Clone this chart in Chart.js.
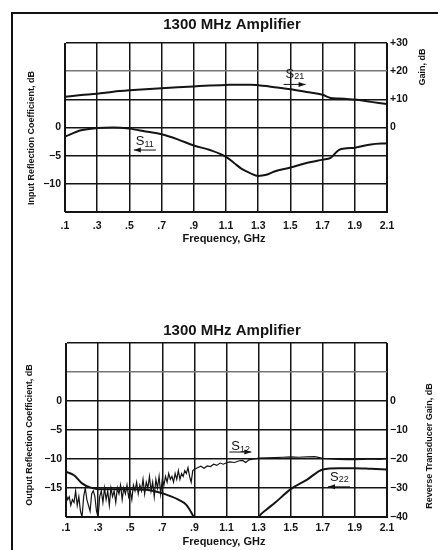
<!DOCTYPE html>
<html>
<head>
<meta charset="utf-8">
<script src="https://cdn.jsdelivr.net/npm/chart.js@4.4.0/dist/chart.umd.min.js"></script>
<style>
  body { margin:0; background:#fff; width:438px; height:550px; overflow:hidden; position:relative; }
  #frame { position:absolute; left:11px; top:12px; right:0; bottom:0; border-left:2px solid #111; border-top:2px solid #111; }
  canvas { position:absolute; left:0; }
  #top { top:0; }
  #bottom { top:280px; }
</style>
</head>
<body>
<div id="frame"></div>
<canvas id="top" width="438" height="280"></canvas>
<canvas id="bottom" width="438" height="270"></canvas>
<script>
// dados (GHz / dB)
const freqTop = [0.1, 0.2, 0.3, 0.4, 0.5, 0.6, 0.7, 0.8, 0.9, 1.0, 1.1, 1.15, 1.2, 1.25, 1.3, 1.35, 1.4, 1.5, 1.6, 1.7, 1.75, 1.8, 1.85, 1.9, 2.0, 2.1];
const s21Gain = [10.9, 11.5, 12.0, 12.7, 13.2, 13.6, 13.9, 14.3, 14.6, 14.9, 15.1, 15.2, 15.2, 15.2, 15.0, 14.7, 14.3, 13.6, 12.6, 11.6, 10.5, 10.3, 10.1, 9.9, 9.1, 8.3];
const s11Input = [-1.6, -0.5, -0.1, 0, -0.2, -0.7, -1.2, -2.1, -3.2, -4.0, -5.2, -6.3, -7.4, -8.1, -8.6, -8.4, -7.8, -7.1, -6.3, -5.7, -5.4, -4.0, -3.7, -3.6, -3.0, -2.8];

const freqS22 = [0.1, 0.15, 0.2, 0.25, 0.3, 0.4, 0.5, 0.6, 0.7, 0.75, 0.8, 0.85, 0.9, 0.95, 1.25, 1.3, 1.35, 1.4, 1.5, 1.6, 1.7, 1.8, 1.9, 2.0, 2.1];
const s22Output = [-12.2, -12.8, -14.2, -14.9, -15.2, -15.2, -15.2, -15.3, -15.9, -16.4, -17.0, -17.9, -20.2, -23, -23, -20.0, -18.7, -17.6, -15.2, -13.6, -11.8, -11.6, -11.6, -11.7, -11.8];

const freqS12 = [0.10, 0.11, 0.12, 0.13, 0.14, 0.15, 0.16, 0.17, 0.18, 0.19, 0.20, 0.21, 0.22, 0.23, 0.24, 0.25, 0.26, 0.27, 0.28, 0.29,
  0.30, 0.31, 0.32, 0.33, 0.34, 0.35, 0.36, 0.37, 0.38, 0.39, 0.40, 0.41, 0.42, 0.43, 0.44, 0.45, 0.46, 0.47, 0.48, 0.49,
  0.50, 0.51, 0.52, 0.53, 0.54, 0.55, 0.56, 0.57, 0.58, 0.59, 0.60, 0.61, 0.62, 0.63, 0.64, 0.65, 0.66, 0.67, 0.68, 0.69,
  0.70, 0.71, 0.72, 0.73, 0.74, 0.75, 0.76, 0.77, 0.78, 0.79, 0.80, 0.81, 0.82, 0.83, 0.84, 0.85, 0.86, 0.87, 0.88, 0.89,
  0.90, 0.92, 0.94, 0.96, 0.98, 1.00, 1.02, 1.04, 1.06, 1.08, 1.10, 1.12, 1.15, 1.18, 1.20, 1.22, 1.24, 1.27, 1.30,
  1.35, 1.40, 1.45, 1.50, 1.55, 1.60, 1.65, 1.70, 1.75, 1.80, 1.85, 1.90, 1.95, 2.00, 2.05, 2.10];
const s12Reverse = [-32, -34, -33, -36, -34, -35, -31, -36, -33, -38, -40, -33, -30, -34, -36, -38, -32, -31, -33, -38,
  -40, -33, -31, -35, -30, -34, -31, -36, -30, -33, -31, -35, -30, -32, -29, -34, -30, -32, -29, -33,
  -31, -34, -29, -31, -28, -32, -29, -31, -27, -32, -28, -30, -26, -31, -28, -33, -27, -30, -26, -32,
  -27, -29, -26, -28, -25, -27, -26, -28, -25, -27, -24, -27, -25, -26, -24, -25, -23, -26, -28, -24,
  -23.5, -23, -22.5, -23.2, -22.4, -22.6, -21.8, -22.2, -21.4, -21.8, -21.3, -21.0, -21.2, -20.6, -20.5, -21.2, -20.3, -20.0, -19.7,
  -19.6, -19.5, -19.4, -19.3, -19.4, -19.3, -19.2, -19.8, -20.0, -20.1, -20.2, -20.2, -20.1, -20.0, -20.1, -19.9];

// rótulos visíveis nos eixos
const topLeftLabels = [0, -5, -10];
const topRightLabels = [30, 20, 10, 0];
const bottomLeftLabels = [0, -5, -10, -15];
const bottomRightLabels = [0, -10, -20, -30, -40];

const FONT = '"Liberation Sans", Arial, sans-serif';
const INK = '#141414';

function pts(xs, ys) {
    return xs.map((x, i) => ({ x: x, y: ys[i] }));
}

function fmtFreq(v) {
    const s = (Math.round(v * 10) / 10).toFixed(1);
    return s.startsWith('0') ? s.slice(1) : s;
}

function fmtDb(v, plus) {
    if (v < 0) return '\u2212' + Math.abs(v);
    if (v > 0 && plus) return '+' + v;
    return String(v);
}

// desenha títulos, nomes dos eixos e as setas S21/S11 etc.
const textPlugin = {
    id: 'texts',
    afterDraw(chart, args, o) {
        const ctx = chart.ctx;
        ctx.save();
        ctx.fillStyle = INK;
        ctx.strokeStyle = INK;
        ctx.textAlign = 'center';
        ctx.textBaseline = 'middle';

        ctx.font = 'bold 15px ' + FONT;
        ctx.fillText(o.title, 232, o.titleY);

        ctx.font = 'bold 11px ' + FONT;
        ctx.fillText('Frequency, GHz', 224, o.xTitleY);

        ctx.font = 'bold 9px ' + FONT;
        [o.leftTitle, o.rightTitle].forEach(t => {
            ctx.save();
            ctx.translate(t.x, t.y);
            ctx.rotate(-Math.PI / 2);
            ctx.fillText(t.text, 0, 0);
            ctx.restore();
        });

        o.marks.forEach(m => {
            const sx = chart.scales.x.getPixelForValue(m.x);
            const sc = chart.scales[m.axis];
            const ty = sc.getPixelForValue(m.y);
            const ay = sc.getPixelForValue(m.arrowY);
            ctx.textAlign = 'left';
            ctx.font = '13px ' + FONT;
            ctx.fillText('S', sx, ty);
            const w = ctx.measureText('S').width;
            ctx.font = '9px ' + FONT;
            ctx.fillText(m.sub, sx + w, ty + 3);
            // seta
            const x0 = sx - 2, x1 = sx + 20;
            ctx.lineWidth = 1;
            ctx.beginPath();
            ctx.moveTo(x0, ay);
            ctx.lineTo(x1, ay);
            ctx.stroke();
            const tip = m.dir > 0 ? x1 : x0;
            ctx.beginPath();
            ctx.moveTo(tip, ay);
            ctx.lineTo(tip - m.dir * 7, ay - 2.5);
            ctx.lineTo(tip - m.dir * 7, ay + 2.5);
            ctx.closePath();
            ctx.fill();
        });
        ctx.restore();
    }
};

function makeChart(id, cfg) {
    const gridColor = ctx => (cfg.lightTicks.includes(ctx.tick && ctx.tick.value) ? '#777' : INK);
    return new Chart(document.getElementById(id), {
        type: 'line',
        data: { datasets: cfg.datasets },
        options: {
            responsive: false,
            animation: false,
            layout: { padding: { top: cfg.padTop, left: 0, right: 0, bottom: 0 } },
            plugins: { legend: { display: false }, tooltip: { enabled: false }, texts: cfg.texts },
            elements: { point: { radius: 0 } },
            scales: {
                x: {
                    type: 'linear', min: 0.1, max: 2.1,
                    ticks: { stepSize: 0.2, padding: cfg.xPad, color: INK, font: { family: FONT, size: 10.5, weight: 'bold' }, callback: fmtFreq, maxRotation: 0 },
                    grid: { color: INK, lineWidth: 1.5, drawTicks: false },
                    border: { color: INK, width: 1 },
                    afterFit: s => { s.height = cfg.xHeight; }
                },
                y: {
                    position: 'left', min: cfg.left[0], max: cfg.left[1],
                    ticks: { stepSize: 5, padding: 4, color: INK, font: { family: FONT, size: 10.5, weight: 'bold' },
                        callback: v => (cfg.leftLabels.includes(v) ? fmtDb(v, false) : '') },
                    grid: { color: gridColor, lineWidth: 1.5, drawTicks: false },
                    border: { color: INK, width: 1 },
                    afterFit: s => { s.width = cfg.leftWidth; }
                },
                y1: {
                    position: 'right', min: cfg.right[0], max: cfg.right[1],
                    ticks: { stepSize: 10, padding: 3, color: INK, font: { family: FONT, size: 10.5, weight: 'bold' },
                        callback: v => (cfg.rightLabels.includes(v) ? fmtDb(v, true) : '') },
                    grid: { display: false, drawTicks: false },
                    border: { color: INK, width: 1 },
                    afterFit: s => { s.width = 51; }
                }
            }
        },
        plugins: [textPlugin]
    });
}

makeChart('top', {
    padTop: 43, xHeight: 68, xPad: 8, leftWidth: 65,
    left: [-15, 15], right: [-30, 30],
    leftLabels: topLeftLabels, rightLabels: topRightLabels, lightTicks: [10],
    datasets: [
        { label: 'S21', data: pts(freqTop, s21Gain), yAxisID: 'y1', borderColor: INK, borderWidth: 2, cubicInterpolationMode: 'monotone' },
        { label: 'S11', data: pts(freqTop, s11Input), yAxisID: 'y', borderColor: INK, borderWidth: 2, cubicInterpolationMode: 'monotone' }
    ],
    texts: {
        title: '1300 MHz Amplifier', titleY: 25, xTitleY: 239,
        leftTitle: { text: 'Input Reflection Coefficient, dB', x: 32, y: 138 },
        rightTitle: { text: 'Gain, dB', x: 423, y: 67 },
        marks: [
            { sub: '21', x: 1.47, y: 19, arrowY: 15.3, axis: 'y1', dir: 1 },
            { sub: '11', x: 0.54, y: -2.5, arrowY: -4.0, axis: 'y', dir: -1 }
        ]
    }
});

makeChart('bottom', {
    padTop: 63, xHeight: 33, xPad: 5, leftWidth: 66,
    left: [-20, 10], right: [-40, 20],
    leftLabels: bottomLeftLabels, rightLabels: bottomRightLabels, lightTicks: [5],
    datasets: [
        { label: 'S12', data: pts(freqS12, s12Reverse), yAxisID: 'y1', borderColor: INK, borderWidth: 1.2, tension: 0 },
        { label: 'S22', data: pts(freqS22, s22Output), yAxisID: 'y', borderColor: INK, borderWidth: 2, cubicInterpolationMode: 'monotone' }
    ],
    texts: {
        title: '1300 MHz Amplifier', titleY: 51, xTitleY: 262,
        leftTitle: { text: 'Output Reflection Coefficient, dB', x: 30, y: 155 },
        rightTitle: { text: 'Reverse Transducer Gain, dB', x: 430, y: 166 },
        marks: [
            { sub: '12', x: 1.13, y: -15.6, arrowY: -17.6, axis: 'y1', dir: 1 },
            { sub: '22', x: 1.745, y: -13.1, arrowY: -14.8, axis: 'y', dir: -1 }
        ]
    }
});
</script>
</body>
</html>
